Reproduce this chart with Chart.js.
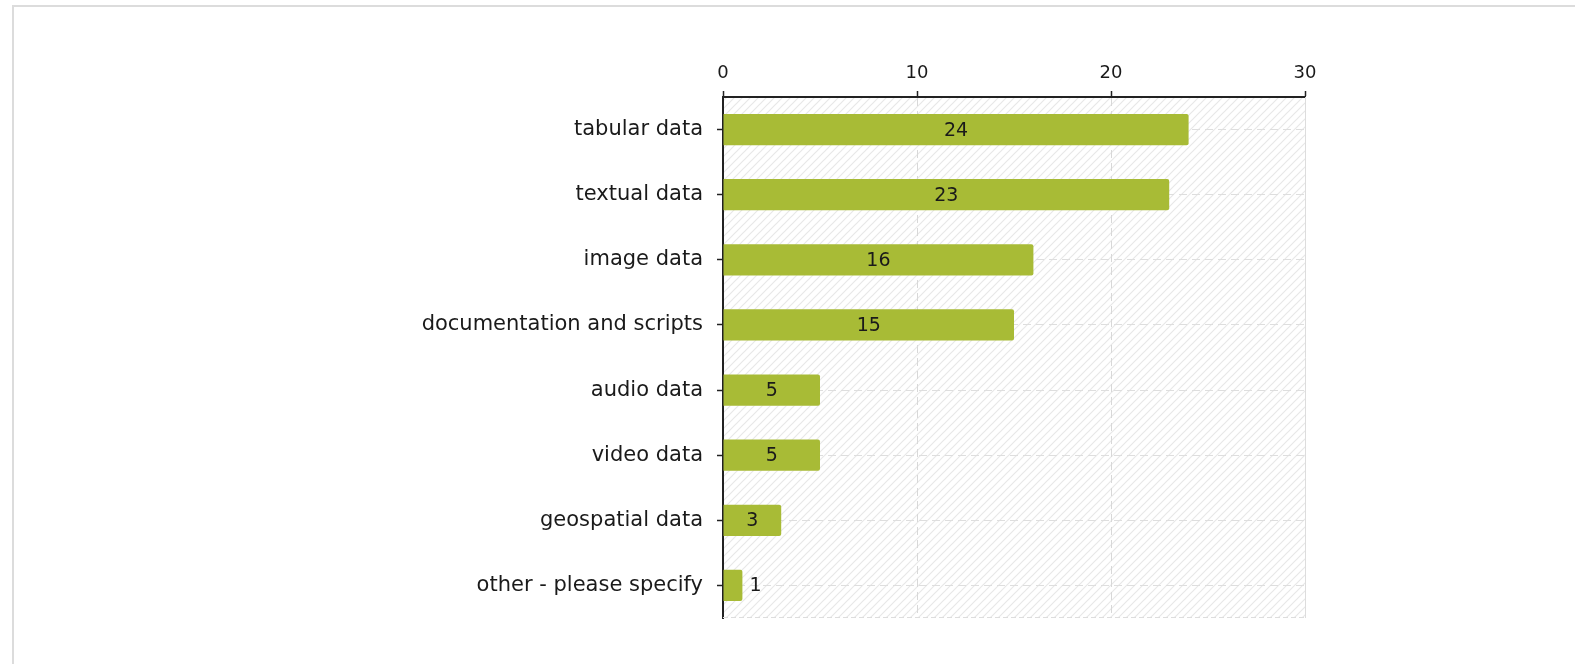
<!DOCTYPE html>
<html>
<head>
<meta charset="utf-8">
<script src="https://cdn.jsdelivr.net/npm/chart.js@4/dist/chart.umd.min.js"></script>
<style>
  html, body { margin: 0; padding: 0; background: #fff; overflow: hidden; }
  #frame { position: absolute; left: 12px; top: 5px; width: 1700px; height: 800px; border: 2px solid #dcdcdc; box-sizing: border-box; }
  #wrap { position: absolute; left: 0; top: 0; width: 1575px; height: 664px; }
</style>
</head>
<body>
<div id="frame"></div>
<div id="wrap"><canvas id="c" width="1575" height="664"></canvas></div>
<script>
const categories = ["tabular data", "textual data", "image data", "documentation and scripts", "audio data", "video data", "geospatial data", "other - please specify"];
const counts = [24, 23, 16, 15, 5, 5, 3, 1];
const xTicks = [0, 10, 20, 30];

const FONT = "'DejaVu Sans', Verdana, sans-serif";
const BAR_COLOR = "#a8bb36";

function hatchPattern(ctx) {
  const p = document.createElement('canvas');
  p.width = 8; p.height = 8;
  const g = p.getContext('2d');
  g.fillStyle = '#ffffff';
  g.fillRect(0, 0, 8, 8);
  g.strokeStyle = '#e8e8e8';
  g.lineWidth = 1.2;
  g.beginPath();
  g.moveTo(-2, 10); g.lineTo(10, -2);
  g.moveTo(-2, 2); g.lineTo(2, -2);
  g.moveTo(6, 10); g.lineTo(10, 6);
  g.stroke();
  return ctx.createPattern(p, 'repeat');
}

const bgPlugin = {
  id: 'bg',
  beforeDraw(chart) {
    const {ctx, chartArea: a} = chart;
    ctx.save();
    ctx.fillStyle = hatchPattern(ctx);
    ctx.fillRect(a.left, a.top, a.right - a.left, a.bottom - a.top);
    ctx.restore();
  },
  beforeDatasetsDraw(chart) {
    const {ctx, chartArea: a} = chart;
    ctx.save();
    ctx.strokeStyle = '#dddddd';
    ctx.lineWidth = 1;
    ctx.setLineDash([5, 3]);
    ctx.beginPath();
    ctx.moveTo(a.left, a.bottom - 0.5);
    ctx.lineTo(a.right, a.bottom - 0.5);
    ctx.stroke();
    ctx.setLineDash([]);
    ctx.beginPath();
    ctx.moveTo(a.right + 0.5, a.top);
    ctx.lineTo(a.right + 0.5, a.bottom);
    ctx.stroke();
    ctx.restore();
  }
};

const labelPlugin = {
  id: 'vals',
  afterDatasetsDraw(chart) {
    const {ctx} = chart;
    const meta = chart.getDatasetMeta(0);
    ctx.save();
    ctx.font = "19px " + FONT;
    ctx.fillStyle = '#1a1a1a';
    ctx.textBaseline = 'middle';
    meta.data.forEach((el, i) => {
      const txt = String(chart.data.datasets[0].data[i]);
      const w = ctx.measureText(txt).width;
      const barW = el.x - el.base;
      if (barW > w + 14) {
        ctx.textAlign = 'center';
        ctx.fillText(txt, (el.x + el.base) / 2, el.y + 1);
      } else {
        ctx.textAlign = 'left';
        ctx.fillText(txt, el.x + 7, el.y + 1);
      }
    });
    ctx.restore();
  }
};

new Chart(document.getElementById('c'), {
  type: 'bar',
  data: {
    labels: categories,
    datasets: [{
      data: counts,
      backgroundColor: BAR_COLOR,
      borderWidth: 0,
      borderRadius: 2,
      borderSkipped: 'start',
      categoryPercentage: 1.0,
      barPercentage: 0.48
    }]
  },
  options: {
    indexAxis: 'y',
    responsive: false,
    animation: false,
    devicePixelRatio: 1,
    layout: { padding: { left: 0, top: 0, right: 270, bottom: 46 } },
    plugins: { legend: { display: false }, tooltip: { enabled: false } },
    scales: {
      x: {
        position: 'top',
        min: 0, max: 30,
        afterBuildTicks(scale) { scale.ticks = xTicks.map(v => ({value: v})); },
        afterFit(scale) { scale.height = 97; },
        ticks: { color: '#1a1a1a', font: { family: FONT, size: 18 }, padding: 7, maxRotation: 0 },
        grid: { color: '#d8d8d8', tickColor: '#222', tickLength: 6, lineWidth: 1, tickWidth: 1.5 },
        border: { color: '#222', width: 2, dash: [8, 5] }
      },
      y: {
        afterFit(scale) { scale.width = 723; },
        ticks: { color: '#1a1a1a', font: { family: FONT, size: 21 }, padding: 14 },
        grid: { offset: false, color: '#dedede', tickColor: '#222', tickLength: 6, lineWidth: 1, tickWidth: 1.5 },
        border: { color: '#222', width: 2, dash: [8, 5] }
      }
    }
  },
  plugins: [bgPlugin, labelPlugin]
});
</script>
</body>
</html>
